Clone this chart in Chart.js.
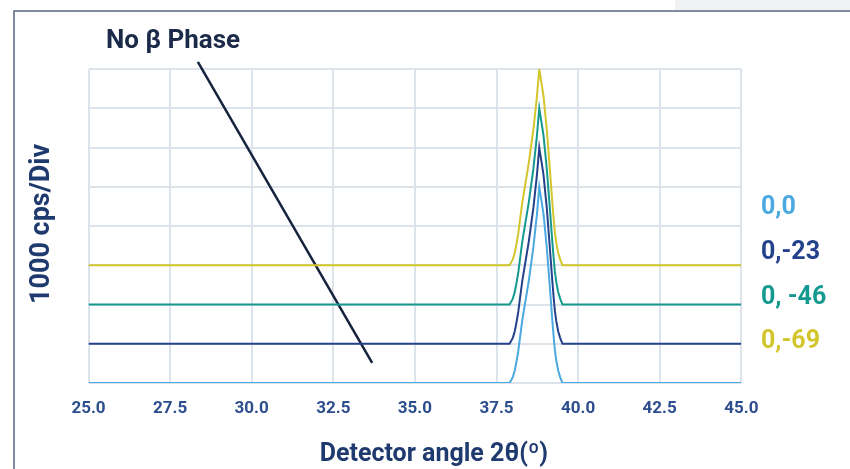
<!DOCTYPE html>
<html>
<head>
<meta charset="utf-8">
<script src="https://cdn.jsdelivr.net/npm/chart.js@4.4.1/dist/chart.umd.min.js"></script>
<style>
  html, body { margin: 0; padding: 0; background: #fff; }
  #wrap { width: 850px; height: 469px; position: relative; }
</style>
</head>
<body>
<div id="wrap"><canvas id="xrdChart" width="850" height="469"></canvas></div>
<script>
// 検出角 2θ (度)
const angles = [25, 37.90, 38.00, 38.06, 38.12, 38.17, 38.21, 38.29, 38.49, 38.63, 38.74, 38.81, 38.94, 39.04, 39.12, 39.21, 39.26, 39.29, 39.33, 39.39, 39.45, 39.52, 45];

// 各条件の強度 (1000 cps/Div 単位、ベースラインずらし込み)
const series00 = [0, 0, 0.15, 0.32, 0.58, 0.83, 1.09, 1.6, 2.61, 3.46, 4.31, 5, 4.31, 3.46, 2.61, 1.6, 1.09, 0.83, 0.58, 0.32, 0.15, 0, 0];
const series23 = [1, 1, 1.15, 1.32, 1.58, 1.83, 2.09, 2.6, 3.61, 4.46, 5.31, 6, 5.31, 4.46, 3.61, 2.6, 2.09, 1.83, 1.58, 1.32, 1.15, 1, 1];
const series46 = [2, 2, 2.15, 2.32, 2.58, 2.83, 3.09, 3.6, 4.61, 5.46, 6.31, 7, 6.31, 5.46, 4.61, 3.6, 3.09, 2.83, 2.58, 2.32, 2.15, 2, 2];
const series69 = [3, 3, 3.15, 3.32, 3.58, 3.83, 4.09, 4.6, 5.61, 6.46, 7.31, 8, 7.31, 6.46, 5.61, 4.6, 4.09, 3.83, 3.58, 3.32, 3.15, 3, 3];

const seriesLabels = ["0,0", "0,-23", "0, -46", "0,-69"];
const seriesColors = ["#4aa9e0", "#24418c", "#14998f", "#d3c52c"];

// x軸の目盛り
const xTicks = [25, 27.5, 30, 32.5, 35, 37.5, 40, 42.5, 45];

// 注釈線 "No β Phase" の両端 (データ座標)
const noteLineX = [28.35, 33.69];
const noteLineY = [8.18, 0.51];

const navy = "#1f3a6e";
const fontName = "Roboto, 'Liberation Sans', sans-serif";

function toPoints(ys) {
  return angles.map((a, i) => ({ x: a, y: ys[i] }));
}

const allSeries = [series00, series23, series46, series69];
const datasets = allSeries.map((ys, i) => ({
  label: seriesLabels[i],
  data: toPoints(ys),
  borderColor: seriesColors[i],
  borderWidth: 2,
  pointRadius: 0,
  tension: 0,
  fill: false,
}));

// 注釈線
datasets.push({
  label: "note",
  data: noteLineX.map((x, i) => ({ x: x, y: noteLineY[i] })),
  borderColor: "#16233f",
  borderWidth: 2.5,
  pointRadius: 0,
  clip: false,
});

// 枠・ラベル描画用プラグイン
const decorPlugin = {
  id: "decor",
  beforeDraw(chart) {
    const ctx = chart.ctx;
    ctx.save();
    ctx.fillStyle = "#ffffff";
    ctx.fillRect(0, 0, chart.width, chart.height);
    ctx.fillStyle = "#f1f2f4";
    ctx.fillRect(675, 0, 175, 10);
    ctx.strokeStyle = "#56657f";
    ctx.lineWidth = 1.5;
    ctx.beginPath();
    ctx.moveTo(14, 469);
    ctx.lineTo(14, 11);
    ctx.lineTo(850, 11);
    ctx.stroke();
    ctx.restore();
  },
  afterDraw(chart) {
    const ctx = chart.ctx;
    const xs = chart.scales.x;
    ctx.save();

    // 注釈テキスト
    ctx.fillStyle = "#1a2a48";
    ctx.font = "bold 26px " + fontName;
    ctx.textAlign = "center";
    ctx.textBaseline = "alphabetic";
    ctx.fillText("No β Phase", 173, 48);

    // y軸タイトル
    ctx.save();
    ctx.translate(49, 224);
    ctx.rotate(-Math.PI / 2);
    ctx.fillStyle = navy;
    ctx.font = "bold 27px " + fontName;
    ctx.textAlign = "center";
    ctx.fillText("1000 cps/Div", 0, 0);
    ctx.restore();

    // x軸タイトル
    ctx.fillStyle = navy;
    ctx.font = "bold 25px " + fontName;
    ctx.textAlign = "center";
    ctx.fillText("Detector angle 2θ(º)", (xs.left + xs.right) / 2 + 19, 461);

    // 右側の凡例
    const legendY = [214, 259, 304, 348];
    ctx.font = "bold 25px " + fontName;
    ctx.textAlign = "left";
    seriesLabels.forEach((lab, i) => {
      ctx.fillStyle = seriesColors[i];
      ctx.fillText(lab, 761, legendY[i]);
    });
    ctx.restore();
  },
};

const ctx = document.getElementById("xrdChart").getContext("2d");
new Chart(ctx, {
  type: "line",
  data: { datasets: datasets },
  options: {
    responsive: false,
    animation: false,
    layout: { padding: { left: 88.5, right: 108.7, top: 69, bottom: 0 } },
    plugins: {
      legend: { display: false },
      tooltip: { enabled: false },
    },
    scales: {
      x: {
        type: "linear",
        min: 25,
        max: 45,
        afterBuildTicks: (s) => { s.ticks = xTicks.map((v) => ({ value: v })); },
        afterFit: (s) => { s.height = 86; },
        grid: { color: "#dde3eb", lineWidth: 2, drawTicks: false },
        border: { display: false },
        ticks: {
          padding: 16,
          color: "#2c4d8e",
          font: { family: fontName, size: 17, weight: "bold" },
          callback: (v) => Number(v).toFixed(1),
          maxRotation: 0,
        },
      },
      y: {
        min: 0,
        max: 8,
        afterFit: (s) => { s.width = 0; },
        grid: { color: "#dde3eb", lineWidth: 2, drawTicks: false },
        border: { display: false },
        ticks: { display: false, stepSize: 1 },
      },
    },
  },
  plugins: [decorPlugin],
});
</script>
</body>
</html>
